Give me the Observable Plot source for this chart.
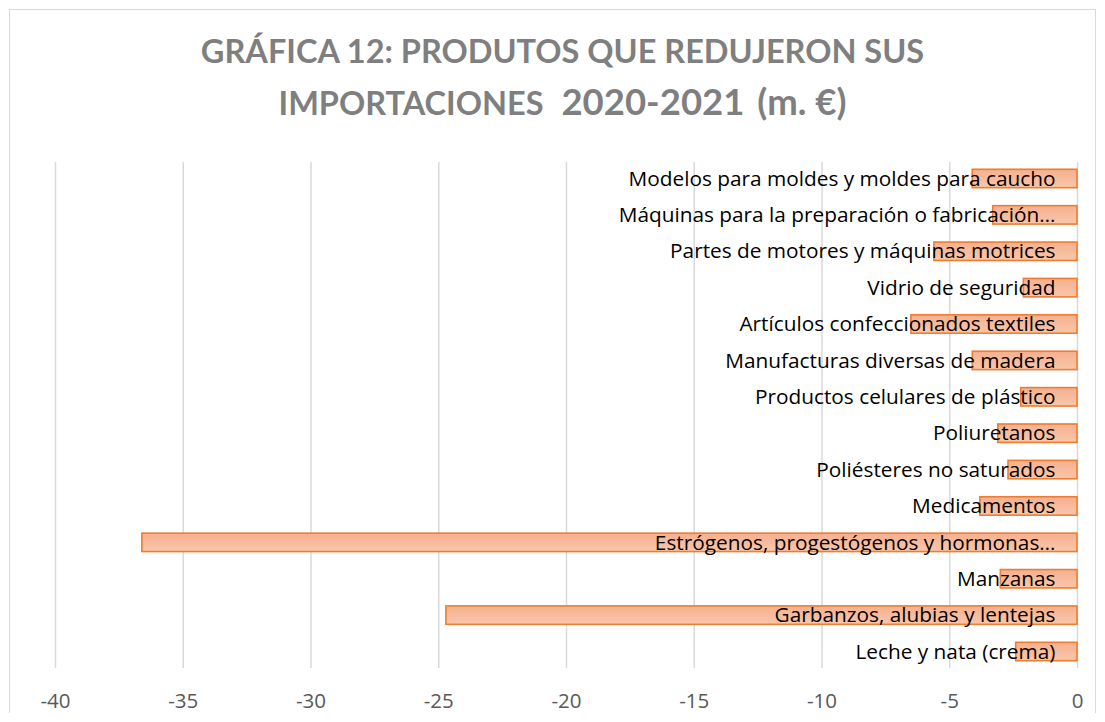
<!DOCTYPE html>
<html>
<head>
<meta charset="utf-8">
<script src="https://cdn.jsdelivr.net/npm/d3@7"></script>
<script src="https://cdn.jsdelivr.net/npm/@observablehq/plot@0.6"></script>
<style>
  html, body { margin: 0; padding: 0; background: #fff; }
  #frame { position: absolute; left: 9px; top: 9px; width: 1087px; height: 704px; border: 1px solid #d9d9d9; box-sizing: border-box; background: #fff; }
  #title { position: absolute; left: 10px; top: 16px; width: 100%; text-align: center; font-family: Lato, "Open Sans", sans-serif; font-weight: bold; color: #7f7f7f; font-size: 32.5px; line-height: 50px; }
  #title .big { font-size: 36.5px; }
  #title .g1 { margin-left: 10px; }
  #title .g2 { margin-left: 5px; }
  #chart { position: absolute; left: 0; top: 131px; }
</style>
</head>
<body>
<div id="frame">
  <div id="title">GRÁFICA 12: PRODUTOS QUE REDUJERON SUS<br>IMPORTACIONES <span class="big g1">2020-2021</span> <span class="big g2">(m. €)</span></div>
  <div id="chart"></div>
</div>
<script>
const categories = [
  "Modelos para moldes y moldes para caucho",
  "Máquinas para la preparación o fabricación…",
  "Partes de motores y máquinas motrices",
  "Vidrio de seguridad",
  "Artículos confeccionados textiles",
  "Manufacturas diversas de madera",
  "Productos celulares de plástico",
  "Poliuretanos",
  "Poliésteres no saturados",
  "Medicamentos",
  "Estrógenos, progestógenos y hormonas…",
  "Manzanas",
  "Garbanzos, alubias y lentejas",
  "Leche y nata (crema)"
];
const values = [-4.1, -3.3, -5.6, -2.1, -6.5, -4.1, -2.2, -3.1, -2.7, -3.8, -36.6, -3.0, -24.7, -2.4];
const xTicks = [-40, -35, -30, -25, -20, -15, -10, -5, 0];

const data = categories.map((c, i) => ({category: c, value: values[i]}));
const fmt = d => d === 0 ? "0" : "-" + Math.abs(d);

const gradientDef = () => {
  const ns = "http://www.w3.org/2000/svg";
  const defs = document.createElementNS(ns, "defs");
  defs.innerHTML = '<linearGradient id="barGrad" x1="0" y1="0" x2="0" y2="1">' +
    '<stop offset="0" stop-color="#f5b08f"/><stop offset="1" stop-color="#fbc6aa"/></linearGradient>';
  return defs;
};

const chart = Plot.plot({
  width: 1085,
  height: 572,
  marginTop: 21,
  marginBottom: 45,
  marginLeft: 45,
  marginRight: 18,
  style: {fontFamily: "'Open Sans', sans-serif", background: "white"},
  x: {domain: [-40, 0], ticks: xTicks, label: null},
  y: {domain: categories, paddingInner: 0.494, paddingOuter: 0.2, round: false, axis: null},
  marks: [
    gradientDef,
    Plot.ruleX(xTicks, {stroke: "#d9d9d9", strokeWidth: 1.5}),
    Plot.barX(data, {x: "value", y: "category", fill: "url(#barGrad)", stroke: "#ed7d31", strokeWidth: 1.6}),
    Plot.text(data, {x: 0, y: "category", text: "category", textAnchor: "end", dx: -22, fontSize: 20.8, fill: "#000"}),
    Plot.axisX({ticks: xTicks, tickSize: 0, tickPadding: 25, fontSize: 20.5, fill: "#595959", tickFormat: fmt, label: null})
  ]
});
document.getElementById("chart").appendChild(chart);
</script>
</body>
</html>
